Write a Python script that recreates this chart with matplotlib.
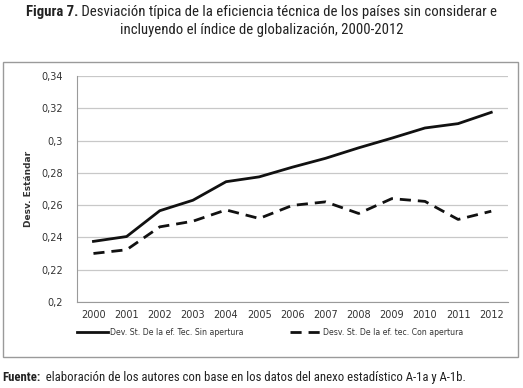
import matplotlib.pyplot as plt
from matplotlib.patches import Rectangle
from matplotlib import font_manager

years = [2000, 2001, 2002, 2003, 2004, 2005, 2006, 2007, 2008, 2009, 2010, 2011, 2012]
sin_apertura = [0.2375, 0.2405, 0.2565, 0.2630, 0.2745, 0.2775, 0.2835, 0.2890, 0.2955, 0.3015,
                0.3078, 0.3105, 0.3175]
con_apertura = [0.2300, 0.2323, 0.2465, 0.2500, 0.2570, 0.2517, 0.2598, 0.2620, 0.2548, 0.2640,
                0.2623, 0.2511, 0.2562]
yticks = [0.2, 0.22, 0.24, 0.26, 0.28, 0.3, 0.32, 0.34]
ytick_labels = ["0,2", "0,22", "0,24", "0,26", "0,28", "0,3", "0,32", "0,34"]

names = {f.name for f in font_manager.fontManager.ttflist}
narrow = "Roboto"
for cand in ["Roboto Condensed", "Liberation Sans Narrow", "DejaVu Sans Condensed"]:
    if cand in names:
        narrow = cand
        break
title_size = 10.6 if narrow != "Roboto" else 9.1

fig = plt.figure(figsize=(5.23, 3.88), dpi=100)
fig.patch.set_facecolor("white")

# outer frame
fig.patches.append(Rectangle((0.006, 0.080), 0.984, 0.760, transform=fig.transFigure,
                             fill=False, edgecolor="#9a9a9a", linewidth=1.0))

ax = fig.add_axes([0.147, 0.222, 0.824, 0.582])
x = list(range(len(years)))
ax.plot(x, sin_apertura, color="#111111", linewidth=2.0, linestyle="-",
        label="Dev. St. De la ef. Tec. Sin apertura")
ax.plot(x, con_apertura, color="#111111", linewidth=2.0, linestyle=(0, (4, 2.5)),
        label="Desv. St. De la ef. tec. Con apertura")

ax.set_ylim(0.2, 0.34)
ax.set_xlim(-0.5, len(years) - 0.5)
ax.set_yticks(yticks)
ax.set_yticklabels(ytick_labels)
ax.set_xticks(x)
ax.set_xticklabels([str(y) for y in years])
ax.tick_params(axis="both", length=0, labelsize=7, colors="#333333")
ax.tick_params(axis="y", pad=10)
ax.tick_params(axis="x", pad=6)
ax.yaxis.grid(True, color="#c8c8c8", linewidth=0.9)
ax.set_axisbelow(True)
for s in ["top", "right"]:
    ax.spines[s].set_visible(False)
ax.spines["left"].set_color("#9a9a9a")
ax.spines["bottom"].set_color("#9a9a9a")
ax.set_ylabel("Desv. Estándar", fontsize=6.5, color="#333333", fontweight="bold", labelpad=6)

ax.legend(loc="upper left", bbox_to_anchor=(-0.015, -0.085), ncol=2, frameon=False,
          fontsize=5.6, handlelength=3.9, columnspacing=6.0, handletextpad=0.3,
          labelcolor="#333333")

# title: bold "Figura 7." followed by regular text
fig.canvas.draw()
r = fig.canvas.get_renderer()
t_bold = fig.text(0, 0.968, "Figura 7.", ha="left", va="center", fontsize=title_size,
                  family=narrow, fontweight="bold", color="#222222")
t_rest = fig.text(0, 0.968, " Desviación típica de la eficiencia técnica de los países sin considerar e",
                  ha="left", va="center", fontsize=title_size, family=narrow, color="#222222")
wb = t_bold.get_window_extent(r).width
wr = t_rest.get_window_extent(r).width
W = fig.bbox.width
x0 = (W - wb - wr) / 2 / W
t_bold.set_x(x0)
t_rest.set_x(x0 + wb / W)
fig.text(0.5, 0.922, "incluyendo el índice de globalización, 2000-2012",
         ha="center", va="center", fontsize=title_size, family=narrow, color="#222222")

f_bold = fig.text(0.004, 0.026, "Fuente:", ha="left", va="center", fontsize=title_size - 1.4,
                  family=narrow, fontweight="bold", color="#222222")
wf = f_bold.get_window_extent(r).width
fig.text(0.004 + wf / W, 0.026,
         "  elaboración de los autores con base en los datos del anexo estadístico A-1a y A-1b.",
         ha="left", va="center", fontsize=title_size - 1.4, family=narrow, color="#222222")

fig.savefig("out.png", dpi=100)
